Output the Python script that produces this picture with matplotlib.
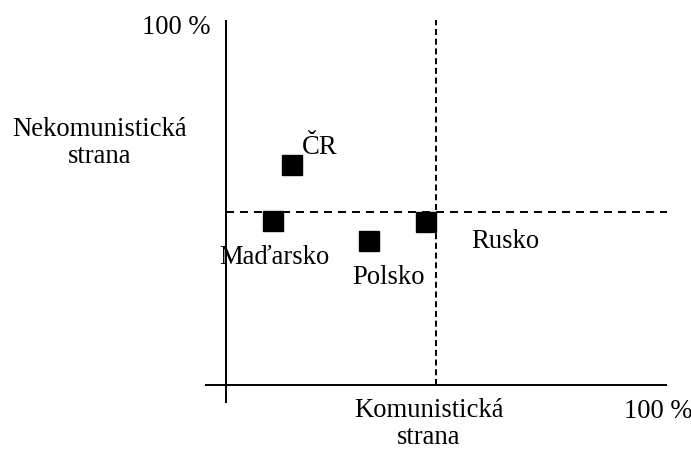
import matplotlib
matplotlib.use("Agg")
import matplotlib.pyplot as plt

# Data (percent share: x = communist party, y = non-communist party)
countries = ["ČR", "Maďarsko", "Polsko", "Rusko"]
x_vals = [15.7, 11.1, 34.1, 47.8]
y_vals = [63.7, 47.3, 41.5, 47.1]
threshold = 50
x_label = "Komunistická\nstrana"
y_label = "Nekomunistická\nstrana"
max_label = "100 %"

W, H = 691, 450
fig = plt.figure(figsize=(W / 100, H / 100), dpi=100)
ax = fig.add_axes([0, 0, 1, 1])

# pixel mapping: x 0 -> 226 px, 50 -> 435.7 px ; y 0 -> 385 px, 50 -> 212 px
sx = (435.7 - 226) / 50.0
sy = (385 - 212) / 50.0
ax.set_xlim(-226 / sx, (W - 226) / sx)
ax.set_ylim((385 - H) / sy, 385 / sy)
ax.axis("off")

def px(xp, yp):
    return ((xp - 226) / sx, (385 - yp) / sy)

font = "Liberation Serif"
fs = 19.2
lw = 1.4

# axes lines
x0, y_bot = px(205, 403)
x_end, y_top = px(667, 20)
ax.plot([0, 0], [y_bot, y_top], color="black", lw=lw, solid_capstyle="butt")
ax.plot([x0, x_end], [0, 0], color="black", lw=lw, solid_capstyle="butt")

# dashed threshold lines
ax.plot([threshold, threshold], [0, y_top], color="black", lw=lw,
        dashes=(3.1, 1.9), dash_capstyle="butt")
ax.plot([0, x_end], [threshold, threshold], color="black", lw=lw,
        dashes=(4.1, 3.1), dash_capstyle="butt")

# markers
ax.plot(x_vals, y_vals, linestyle="none", marker="s", markersize=15,
        color="black", zorder=5)

# point labels (pixel centers)
label_pos = {"ČR": (320, 147), "Maďarsko": (274, 258),
             "Polsko": (388, 278), "Rusko": (505, 242)}
for name in countries:
    lx, ly = px(*label_pos[name])
    ax.text(lx, ly, name, ha="center", va="center", family=font, fontsize=fs)

# axis labels
tx, ty = px(429, 424)
ax.text(tx, ty, x_label, ha="center", va="center", family=font, fontsize=fs,
        linespacing=1.13, multialignment="center")
tx, ty = px(99.5, 143)
ax.text(tx, ty, y_label, ha="center", va="center", family=font, fontsize=fs,
        linespacing=1.15, multialignment="center")
tx, ty = px(658, 412)
ax.text(tx, ty, max_label, ha="center", va="center", family=font, fontsize=fs)
tx, ty = px(176, 28)
ax.text(tx, ty, max_label, ha="center", va="center", family=font, fontsize=fs)

fig.savefig("out.png", dpi=100)
